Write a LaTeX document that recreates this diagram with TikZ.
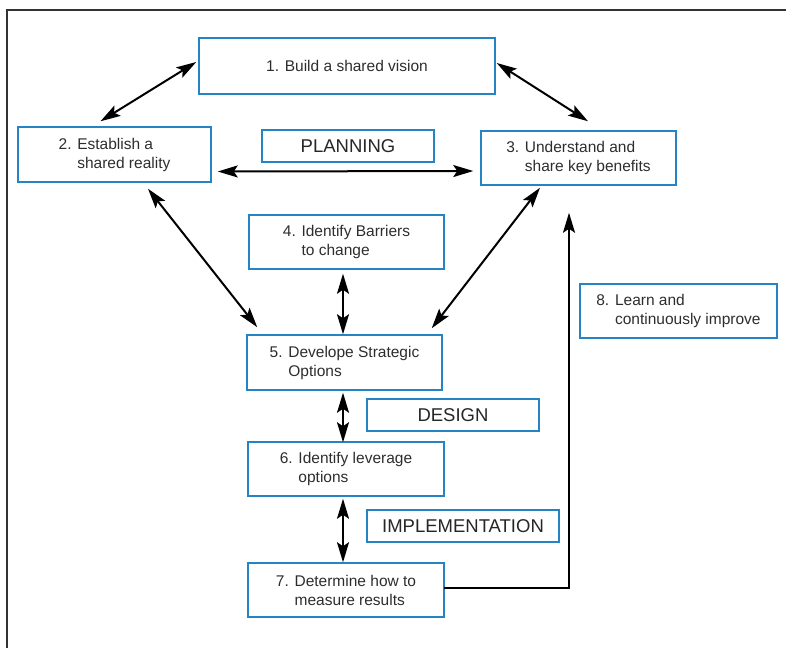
\documentclass[tikz,border=0pt]{standalone}
\usepackage{fontspec}
\setmainfont{Liberation Sans}
\usetikzlibrary{arrows.meta}

\definecolor{boxblue}{RGB}{38,132,196}
\definecolor{inkgray}{RGB}{45,45,45}

\begin{document}
\begin{tikzpicture}[
  x=1pt, y=-1pt,
  stepbox/.style={draw=boxblue, line width=1.5pt, align=left, inner sep=0pt, text=inkgray, font=\fontsize{15.5}{19}\selectfont},
  phase/.style={draw=boxblue, line width=1.5pt, inner sep=0pt, minimum width=172pt, minimum height=32pt, text=black!85, font=\fontsize{18.5}{21}\selectfont},
  arrow/.style={{Stealth[length=20pt,width=12pt,inset=4pt]}-{Stealth[length=20pt,width=12pt,inset=4pt]}, line width=2pt},
  oneway/.style={-{Stealth[length=20pt,width=12pt,inset=4pt]}, line width=2pt}
]
\useasboundingbox (0,0) rectangle (786,648);
% page frame
\draw[line width=1.4pt, black!80] (7,648) -- (7,10) -- (786,10);

\node[stepbox, minimum width=296pt, minimum height=56pt] (b1) at (347,66) {1. Build a shared vision};
\node[stepbox, minimum width=193pt, minimum height=55pt] (b2) at (114.5,154.5) {2. Establish a\\\hphantom{2. }shared reality};
\node[phase] (plan) at (348,146) {PLANNING};
\node[stepbox, minimum width=195pt, minimum height=54pt] (b3) at (578.5,158) {3. Understand and\\\hphantom{3. }share key benefits};
\node[stepbox, minimum width=195pt, minimum height=54pt] (b4) at (346.5,242) {4. Identify Barriers\\\hphantom{4. }to change};
\node[stepbox, minimum width=195pt, minimum height=55pt] (b5) at (344.5,362.5) {5. Develope Strategic\\\hphantom{5. }Options};
\node[phase] (design) at (453,415) {DESIGN};
\node[stepbox, minimum width=196pt, minimum height=54pt] (b6) at (346,469) {6. Identify leverage\\\hphantom{6. }options};
\node[phase, minimum width=192pt] (impl) at (463,526) {IMPLEMENTATION};
\node[stepbox, minimum width=196pt, minimum height=54pt] (b7) at (346,590) {7. Determine how to\\\hphantom{7. }measure results};
\node[stepbox, minimum width=197pt, minimum height=54pt] (b8) at (678.5,311) {8. Learn and\\\hphantom{8. }continuously improve};

% planning links
\draw[arrow] ([shift={(-2,-4)}]b1.west) -- ([shift={(-14,-5)}]b2.north);
\draw[arrow] ([shift={(1,-3)}]b1.east) -- ([shift={(9.5,-9)}]b3.north);
\draw[arrow] ([shift={(6,17)}]b2.east) -- ([shift={(-7,13)}]b3.west);
\draw[arrow] ([shift={(33.5,6)}]b2.south) -- ([shift={(11,-7)}]b5.north west);
\draw[arrow] ([shift={(-38.5,2)}]b3.south) -- ([shift={(-11,-6)}]b5.north east);
% main column
\draw[arrow] ([shift={(-3.5,4)}]b4.south) -- ([shift={(-1.5,0)}]b5.north);
\draw[arrow] ([shift={(-1.5,2)}]b5.south) -- ([shift={(-3,1)}]b6.north);
\draw[arrow] ([shift={(-3,2)}]b6.south) -- ([shift={(-3,0)}]b7.north);
% feedback
\draw[oneway, line cap=rect] (b7.east |- 0,588) -| ([shift={(-9.5,27)}]b3.south);
\end{tikzpicture}
\end{document}
